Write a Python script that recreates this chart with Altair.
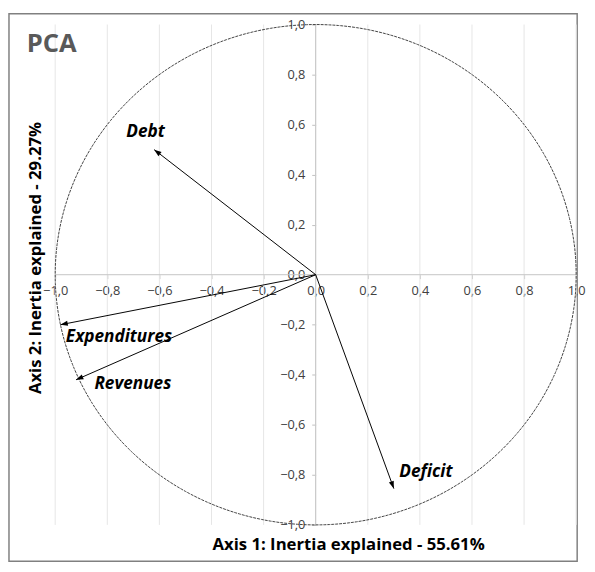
import altair as alt
import pandas as pd

# ---- data ----
variables = ["Debt", "Expenditures", "Revenues", "Deficit"]
axis1 = [-0.62, -0.98, -0.92, 0.30]      # coordinate on axis 1
axis2 = [0.50, -0.20, -0.42, -0.855]     # coordinate on axis 2
label_x = [-0.653, -0.755, -0.702, 0.423]
label_y = [0.572, -0.25, -0.438, -0.788]

tick_values = [-1.0, -0.8, -0.6, -0.4, -0.2, 0.0, 0.2, 0.4, 0.6, 0.8, 1.0]
x_title = "Axis 1: Inertia explained - 55.61%"
y_title = "Axis 2: Inertia explained - 29.27%"
chart_title = ["PCA"]
chart_title_x = [-1.109]
chart_title_y = [0.921]

# ---- layout ----
W, H = 578, 557
X_DOMAIN = [-1.1774, 1.0038]
Y_DOMAIN = [-1.1454, 1.0432]
kx = W / (X_DOMAIN[1] - X_DOMAIN[0])
ky = H / (Y_DOMAIN[1] - Y_DOMAIN[0])
x0_px = (0 - X_DOMAIN[0]) * kx
y0_px = (Y_DOMAIN[1] - 0) * ky

FONT = "Open Sans"
label_expr = "replace(format(datum.value, '.1f'), '.', ',')"

xs = alt.Scale(domain=X_DOMAIN, nice=False, zero=False)
ys = alt.Scale(domain=Y_DOMAIN, nice=False, zero=False)

xax = alt.Axis(
    values=tick_values, labelExpr=label_expr, grid=False, domain=False,
    ticks=True, tickSize=4, tickColor="#c0c0c0", labelPadding=6,
    labelFont=FONT, labelFontSize=13, labelColor="#404040",
    labelFlush=False, labelOverlap=False, offset=-(H - y0_px),
    title=x_title, titleX=345, titleY=540 - y0_px, titleAlign="center",
    titleBaseline="middle", titleFont=FONT, titleFontSize=17,
    titleFontWeight="bold", titleColor="black", titleAngle=0,
)
yax = alt.Axis(
    values=tick_values, labelExpr=label_expr, grid=False, domain=False,
    ticks=True, tickSize=4, tickColor="#c0c0c0", labelPadding=7,
    labelFont=FONT, labelFontSize=13, labelColor="#404040",
    labelFlush=False, labelOverlap=False, offset=-x0_px,
    title=y_title, titleX=27 - x0_px, titleY=248, titleAlign="center",
    titleBaseline="middle", titleFont=FONT, titleFontSize=17,
    titleFontWeight="bold", titleColor="black", titleAngle=270,
)

grid_df = pd.DataFrame({"x": tick_values, "y": [-1.0] * len(tick_values),
                        "y2": [1.0] * len(tick_values)})
grid = alt.Chart(grid_df).mark_rule(color="#e6e6e6", strokeWidth=1).encode(
    x=alt.X("x:Q", scale=xs, axis=xax),
    y=alt.Y("y:Q", scale=ys, axis=yax),
    y2="y2:Q",
)

axes_df = pd.DataFrame({"x": [-1.0, 0.0], "x2": [1.0, 0.0],
                        "y": [0.0, -1.0], "y2": [0.0, 1.0]})
axis_lines = alt.Chart(axes_df).mark_rule(color="#c4c4c4", strokeWidth=1).encode(
    x=alt.X("x:Q", scale=xs, axis=xax),
    y=alt.Y("y:Q", scale=ys, axis=yax),
    x2="x2:Q", y2="y2:Q",
)

circle = alt.Chart(alt.sequence(0, 361, 1, as_="t")).transform_calculate(
    x="cos(datum.t * PI / 180)", y="sin(datum.t * PI / 180)"
).mark_line(color="#404040", strokeWidth=1, strokeDash=[3, 1]).encode(
    x=alt.X("x:Q", scale=xs, axis=xax),
    y=alt.Y("y:Q", scale=ys, axis=yax),
    order=alt.Order("t:Q"),
)

vec_df = pd.DataFrame({"variable": variables, "x": axis1, "y": axis2,
                       "ox": [0.0] * 4, "oy": [0.0] * 4,
                       "lx": label_x, "ly": label_y})

vectors = alt.Chart(vec_df).mark_rule(color="black", strokeWidth=1).encode(
    x=alt.X("ox:Q", scale=xs, axis=xax),
    y=alt.Y("oy:Q", scale=ys, axis=yax),
    x2="x:Q", y2="y:Q",
)

ARROW = "M0,0L-0.7,2L0.7,2Z"
heads = alt.Chart(vec_df).transform_calculate(
    ang=f"(atan2(datum.x * {kx}, datum.y * {ky}) * 180 / PI + 360) % 360"
).mark_point(shape=ARROW, filled=True, size=56, color="black", opacity=1).encode(
    x=alt.X("x:Q", scale=xs, axis=xax),
    y=alt.Y("y:Q", scale=ys, axis=yax),
    angle=alt.Angle("ang:Q", scale=None),
)

labels = alt.Chart(vec_df).mark_text(
    font=FONT, fontSize=17.5, fontWeight="bold", fontStyle="italic",
    color="black", align="center", baseline="middle",
).encode(
    x=alt.X("lx:Q", scale=xs, axis=xax),
    y=alt.Y("ly:Q", scale=ys, axis=yax),
    text="variable:N",
)

title_df = pd.DataFrame({"label": chart_title, "x": chart_title_x, "y": chart_title_y})
title = alt.Chart(title_df).mark_text(
    font=FONT, fontSize=26, fontWeight="bold", color="#595959",
    align="left", baseline="middle",
).encode(
    x=alt.X("x:Q", scale=xs, axis=xax),
    y=alt.Y("y:Q", scale=ys, axis=yax),
    text="label:N",
)

chart = alt.layer(grid, axis_lines, circle, vectors, heads, labels, title).properties(
    width=W, height=H, padding=1, background="white"
).configure_view(stroke="#808080", strokeWidth=1.5)

chart.save("out.html", embed_options={"renderer": "svg", "actions": False})
